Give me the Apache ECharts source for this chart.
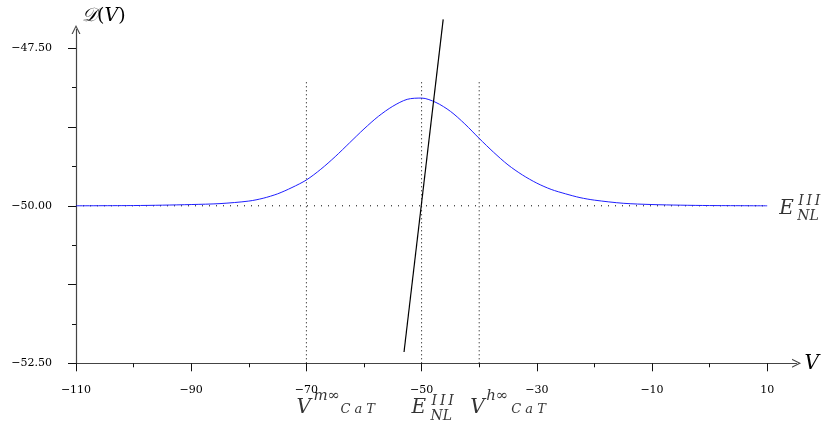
<!DOCTYPE html>
<html><head><meta charset="utf-8">
<script src="https://cdn.jsdelivr.net/npm/echarts@6/dist/echarts.min.js"></script>
<style>html,body{margin:0;padding:0;background:#fff}#c{width:822px;height:429px}</style>
</head><body><div id="c"></div>
<script>
// ---- data ----
const curveX = [-110, -100, -95, -90, -85, -80, -77.5, -75, -72.5, -70, -67.5, -65, -62.5, -60, -57.5, -55, -52.5, -50, -47.5, -45, -42.5, -40, -37.5, -35, -32.5, -30, -27.5, -25, -22.5, -20, -15, -10, -5, 0, 10];
const curveY = [-50, -49.996, -49.99, -49.98, -49.965, -49.925, -49.88, -49.81, -49.71, -49.59, -49.42, -49.22, -49.00, -48.78, -48.58, -48.42, -48.31, -48.29, -48.36, -48.50, -48.70, -48.93, -49.15, -49.35, -49.51, -49.64, -49.74, -49.81, -49.87, -49.91, -49.96, -49.98, -49.99, -49.996, -50];
const nullclineX = [-53.05, -46.25];
const nullclineY = [-52.32, -47.04];
const refLevel = -50;            // E_NL^III (horizontal dotted)
const refRange = [-110, 10];
const verticalX = [-70, -50, -40]; // V_m, E, V_h
const verticalRange = [-52.5, -48.0];
const xMajorTicks = [-110, -90, -70, -50, -30, -10, 10];
const xMinorTicks = [-100, -80, -60, -40, -20, 0];
const yMajorTicks = [-52.5, -51.25, -50, -48.75, -47.5];
const yMinorTicks = [-51.875, -50.625, -49.375, -48.125];
const yLabelValues = [-52.5, -50, -47.5];
const xRange = [-110, 15.1];
const yRange = [-52.5, -47.2];

// ---- chart ----
const chart = echarts.init(document.getElementById('c'), null, {renderer: 'canvas'});
const serif = 'DejaVu Serif';
const fmt = (d) => v => (v < 0 ? '\u2212' : '') + Math.abs(v).toFixed(d);
const arrowPath = 'path://M0,10 L5,0 L10,10 L8.6,10 L5,2.6 L1.4,10 Z';
const axisColor = '#444';
const III = 'I\u2009I\u2009I';

function ann(x, y, text, size, dx, dy) {
  return {
    value: [x, y],
    label: {
      show: true, position: 'inside', formatter: text,
      align: 'left', verticalAlign: 'middle', offset: [dx, dy],
      fontFamily: serif, fontStyle: 'italic', fontSize: size, color: '#000'
    }
  };
}

const annotations = [
  ann(verticalX[0], -52.5, 'V', 20, -10, 44),
  ann(verticalX[0], -52.5, 'm\u221E', 15, 7, 33),
  ann(verticalX[0], -52.5, 'C a T', 13, 34, 46),
  ann(verticalX[1], -52.5, 'E', 20, -10, 44),
  ann(verticalX[1], -52.5, III, 14, 10, 38),
  ann(verticalX[1], -52.5, 'NL', 14, 9, 53),
  ann(verticalX[2], -52.5, 'V', 20, -9, 44),
  ann(verticalX[2], -52.5, 'h\u221E', 15, 7, 33),
  ann(verticalX[2], -52.5, 'C a T', 13, 32, 46),
  ann(refRange[1], refLevel, 'E', 20, 12, 3),
  ann(refRange[1], refLevel, III, 14, 31, -4),
  ann(refRange[1], refLevel, 'NL', 14, 30, 11)
];

const dotted = {color: '#000', width: 1, type: [1, 3]};

const series = [
  {
    type: 'line', name: 'ref', data: refRange.map(x => [x, refLevel]),
    symbol: 'none', lineStyle: {color: '#000', width: 1, type: [1, 6]}, silent: true, z: 1
  }
].concat(verticalX.map(x => ({
    type: 'line', data: verticalRange.map(y => [x, y]),
    symbol: 'none', lineStyle: dotted, silent: true, z: 1
  }))).concat([
  {
    type: 'line', name: 'D(V)', data: curveX.map((x, i) => [x, curveY[i]]),
    symbol: 'none', smooth: 0.3, lineStyle: {color: '#1f1fff', width: 1}, z: 3
  },
  {
    type: 'line', name: 'nullcline', data: nullclineX.map((x, i) => [x, nullclineY[i]]),
    symbol: 'none', clip: false, lineStyle: {color: '#000', width: 1.2}, z: 4
  },
  {
    type: 'scatter', data: annotations, symbolSize: 0, clip: false,
    itemStyle: {color: 'transparent'}, silent: true, z: 5
  }
]);

const option = {
  animation: false,
  backgroundColor: '#fff',
  grid: {left: 76, right: 25.3, top: 29.4, bottom: 65.7, containLabel: false},
  xAxis: [
    {
      type: 'value', min: xRange[0], max: xRange[1], position: 'bottom',
      name: 'V', nameLocation: 'end', nameGap: 8,
      nameTextStyle: {fontFamily: serif, fontStyle: 'italic', fontSize: 20, color: '#000', padding: [6, 0, 0, 0]},
      axisLine: {show: true, onZero: false, symbol: ['none', arrowPath], symbolSize: [9, 11], symbolOffset: [0, 0], lineStyle: {color: axisColor, width: 1.2}},
      axisTick: {show: true, length: 8, customValues: xMajorTicks, lineStyle: {color: '#111', width: 1}},
      axisLabel: {show: true, customValues: xMajorTicks, formatter: fmt(0), margin: 21, fontFamily: serif, fontSize: 11, color: '#000'},
      splitLine: {show: false}
    },
    {
      type: 'value', min: xRange[0], max: xRange[1], position: 'bottom',
      axisLine: {show: false, onZero: false},
      axisTick: {show: true, length: 4, customValues: xMinorTicks, lineStyle: {color: '#111', width: 1}},
      axisLabel: {show: false}, splitLine: {show: false}
    }
  ],
  yAxis: [
    {
      type: 'value', min: yRange[0], max: yRange[1], position: 'left',
      name: '{d|\uD835\uDC9F}{p|(}{v|V}{p|)}', nameLocation: 'end', nameGap: 4,
      nameTextStyle: {align: 'left', padding: [0, 0, 0, 6], rich: {
        d: {fontFamily: serif, fontStyle: 'italic', fontSize: 19, color: '#000'},
        p: {fontFamily: serif, fontSize: 19, color: '#000'},
        v: {fontFamily: serif, fontStyle: 'italic', fontSize: 19, color: '#000'}
      }},
      axisLine: {show: true, onZero: false, symbol: ['none', arrowPath], symbolSize: [9, 11], lineStyle: {color: axisColor, width: 1.2}},
      axisTick: {show: true, length: 8, customValues: yMajorTicks, lineStyle: {color: '#111', width: 1}},
      axisLabel: {show: true, customValues: yLabelValues, formatter: fmt(2), margin: 24, fontFamily: serif, fontSize: 11, color: '#000'},
      splitLine: {show: false}
    },
    {
      type: 'value', min: yRange[0], max: yRange[1], position: 'left',
      axisLine: {show: false, onZero: false},
      axisTick: {show: true, length: 4, customValues: yMinorTicks, lineStyle: {color: '#111', width: 1}},
      axisLabel: {show: false}, splitLine: {show: false}
    }
  ],
  series: series
};
chart.setOption(option);
</script>
</body></html>
